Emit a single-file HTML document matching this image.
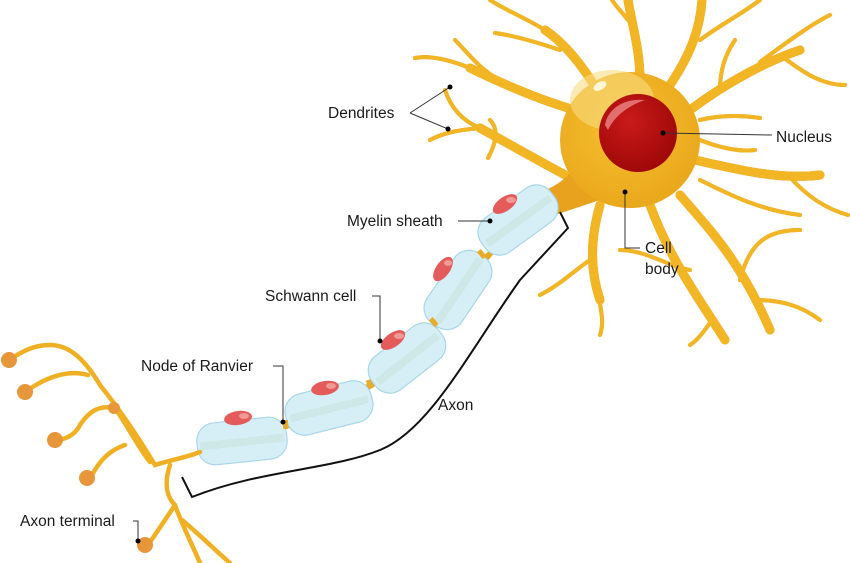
<!DOCTYPE html>
<html><head><meta charset="utf-8"><style>
html,body{margin:0;padding:0;background:#fff;}
svg{display:block;}
text{font-family:"Liberation Sans",sans-serif;font-size:15.5px;fill:#1a1a1a;}
</style></head><body>
<svg width="850" height="563" viewBox="0 0 850 563" xmlns="http://www.w3.org/2000/svg">
<defs>
<radialGradient id="cb" cx="0.45" cy="0.4" r="0.6">
<stop offset="0" stop-color="#f6c030"/><stop offset="1" stop-color="#eaa81c"/>
</radialGradient>
<radialGradient id="nu" cx="0.4" cy="0.35" r="0.65">
<stop offset="0" stop-color="#c91a1a"/><stop offset="1" stop-color="#a00808"/>
</radialGradient>
<g id="dend">
<g stroke-width="9">
<path d="M600,95 C580,60 560,40 545,30"/>
<path d="M640,80 C640,50 632,25 628,0"/>
<path d="M670,85 C690,55 700,30 702,0"/>
<path d="M690,110 C730,80 770,60 800,50"/>
<path d="M695,160 C740,170 780,180 820,175"/>
<path d="M680,195 C710,230 740,260 770,330"/>
<path d="M650,205 C670,260 700,300 725,340"/>
<path d="M600,205 C590,240 590,270 600,300"/>
<path d="M575,180 C555,170 520,150 480,128"/>
<path d="M575,110 C540,100 505,85 470,68"/>
</g>
<g stroke-width="4">
<path d="M545,30 C520,15 505,10 490,0"/>
<path d="M560,50 C530,40 510,35 495,33"/>
<path d="M628,20 C620,10 615,5 612,0"/>
<path d="M700,40 C720,25 740,15 760,0"/>
<path d="M760,62 C790,40 810,25 830,15"/>
<path d="M780,55 C800,70 820,85 845,85"/>
<path d="M790,177 C810,200 830,210 848,215"/>
<path d="M720,90 C720,70 725,55 735,40"/>
<path d="M700,180 C730,195 760,210 800,215"/>
<path d="M755,300 C780,300 800,305 820,320"/>
<path d="M740,280 C750,240 770,230 800,230"/>
<path d="M620,250 C645,250 665,265 690,270"/>
<path d="M590,260 C575,270 560,285 540,295"/>
<path d="M598,290 C600,310 605,320 600,335"/>
<path d="M712,320 C705,330 698,340 690,345"/>
<path d="M480,128 C460,120 450,105 445,90"/>
<path d="M480,128 C460,130 445,132 430,140"/>
<path d="M470,68 C450,60 430,55 415,58"/>
<path d="M500,80 C480,70 470,55 455,40"/>
<path d="M490,120 C500,130 495,145 488,158"/>
<path d="M700,120 C720,115 740,115 760,118"/>
<path d="M700,140 C720,148 740,152 755,150"/>
</g>
</g>
</defs>

<g fill="none" stroke="#cf8a2a" stroke-linecap="round" transform="translate(0,0)">
<use href="#dend" style="stroke-width:1"/>
</g>
<g fill="none" stroke="#f2b625" stroke-linecap="round">
<use href="#dend"/>
</g>

<path d="M545,190 C560,185 575,170 580,160 L600,200 C585,205 570,210 555,215 Z" fill="#e9a21e"/>
<ellipse cx="630" cy="140" rx="70" ry="68" fill="url(#cb)"/>
<ellipse cx="612" cy="100" rx="42" ry="30" fill="#f8dc80" opacity="0.6"/>
<circle cx="638" cy="133" r="39" fill="url(#nu)"/>
<path d="M605,125 C608,108 625,98 645,100 C630,105 615,115 608,130 Z" fill="#e8797a" opacity="0.9"/>
<ellipse cx="600" cy="86" rx="7" ry="4" fill="#fff7d8" transform="rotate(-30 600 86)"/>

<path d="M200,452 C260,440 320,415 380,380 C420,350 440,320 465,285 C490,250 520,220 555,195" fill="none" stroke="#e8a81e" stroke-width="6"/>

<g fill="#d6eff7" stroke="#a9d6e6" stroke-width="1.2">
<rect x="197" y="420" width="90" height="42" rx="18" transform="rotate(-6 242 441)"/>
<rect x="285" y="387" width="88" height="42" rx="18" transform="rotate(-14 329 408)"/>
<rect x="365" y="337" width="84" height="42" rx="18" transform="rotate(-38 407 358)"/>
<rect x="416" y="269" width="84" height="42" rx="18" transform="rotate(-56 458 290)"/>
<rect x="475" y="199" width="86" height="42" rx="18" transform="rotate(-36 518 220)"/>
</g>
<g fill="#c8e4dc" opacity="0.6">
<rect x="200" y="438" width="84" height="8" transform="rotate(-6 242 441)"/>
<rect x="289" y="405" width="80" height="8" transform="rotate(-14 329 408)"/>
<rect x="369" y="355" width="76" height="8" transform="rotate(-38 407 358)"/>
<rect x="420" y="287" width="76" height="8" transform="rotate(-56 458 290)"/>
<rect x="479" y="217" width="78" height="8" transform="rotate(-36 518 220)"/>
</g>
<g fill="#e6ac2a">
<rect x="283" y="420" width="5" height="9"/>
<rect x="367" y="380" width="5" height="9" transform="rotate(-20 369 384)"/>
<rect x="431" y="318" width="5" height="9" transform="rotate(-40 433 322)"/>
<rect x="479" y="250" width="5" height="9" transform="rotate(-40 481 254)"/>
</g>
<g fill="#e35b5b">
<ellipse cx="238" cy="418" rx="14" ry="7" transform="rotate(-8 238 418)"/>
<ellipse cx="325" cy="388" rx="14" ry="7" transform="rotate(-10 325 388)"/>
<ellipse cx="393" cy="340" rx="14" ry="7" transform="rotate(-35 393 340)"/>
<ellipse cx="443" cy="269" rx="14" ry="7" transform="rotate(-55 443 269)"/>
<ellipse cx="505" cy="204" rx="14" ry="7" transform="rotate(-35 505 204)"/>
</g>
<g fill="#f09a96">
<ellipse cx="244" cy="416" rx="5" ry="3"/><ellipse cx="331" cy="386" rx="5" ry="3"/>
<ellipse cx="399" cy="336" rx="5" ry="3"/><ellipse cx="448" cy="263" rx="4" ry="3"/>
<ellipse cx="511" cy="200" rx="5" ry="3"/>
</g>

<g fill="none" stroke="#efb023" stroke-width="4.5" stroke-linecap="round">
<path d="M200,452 C185,458 170,460 155,465 C140,440 120,410 100,385 C85,360 70,345 50,345 C35,345 25,350 12,358"/>
<path d="M88,375 C70,370 50,375 28,390"/>
<path d="M150,462 C140,450 130,430 115,408 C100,405 90,410 80,425 C75,435 65,440 55,440"/>
<path d="M125,445 C110,450 100,460 92,475"/>
<path d="M170,465 C165,480 165,495 175,505 C180,520 190,540 200,563"/>
<path d="M175,505 C165,520 155,535 148,545"/>
<path d="M182,520 C200,535 215,550 230,563"/>
</g>
<g fill="#e8963a">
<circle cx="9" cy="360" r="8"/><circle cx="25" cy="392" r="8"/><circle cx="55" cy="440" r="8"/>
<circle cx="87" cy="478" r="8"/><circle cx="145" cy="545" r="8"/><circle cx="114" cy="408" r="6"/>
</g>

<path d="M182,477 L192,497 C260,470 330,470 380,450 C430,430 470,350 520,280 L568,228 L560,212" fill="none" stroke="#111" stroke-width="2"/>

<g fill="none" stroke="#333" stroke-width="1">
<path d="M410,113 L450,87 M410,113 L448,129"/>
<path d="M663,133 L772,135"/>
<path d="M625,192 L625,248 L640,248"/>
<path d="M458,221 L490,221"/>
<path d="M372,296 L380,296 L380,341"/>
<path d="M273,366 L283,366 L283,422"/>
<path d="M133,521 L138,521 L138,540"/>
</g>
<g fill="#000">
<circle cx="450" cy="87" r="2.5"/><circle cx="448" cy="129" r="2.5"/><circle cx="663" cy="133" r="2.5"/>
<circle cx="625" cy="192" r="2.5"/><circle cx="490" cy="221" r="2.5"/><circle cx="380" cy="341" r="2.5"/>
<circle cx="283" cy="422" r="2.5"/><circle cx="138" cy="541" r="2.5"/>
</g>

<text x="328" y="118">Dendrites</text>
<text x="776" y="142">Nucleus</text>
<text x="645" y="253">Cell</text>
<text x="645" y="274">body</text>
<text x="347" y="226">Myelin sheath</text>
<text x="265" y="301">Schwann cell</text>
<text x="141" y="371">Node of Ranvier</text>
<text x="438" y="410">Axon</text>
<text x="20" y="526">Axon terminal</text>
</svg>
</body></html>
